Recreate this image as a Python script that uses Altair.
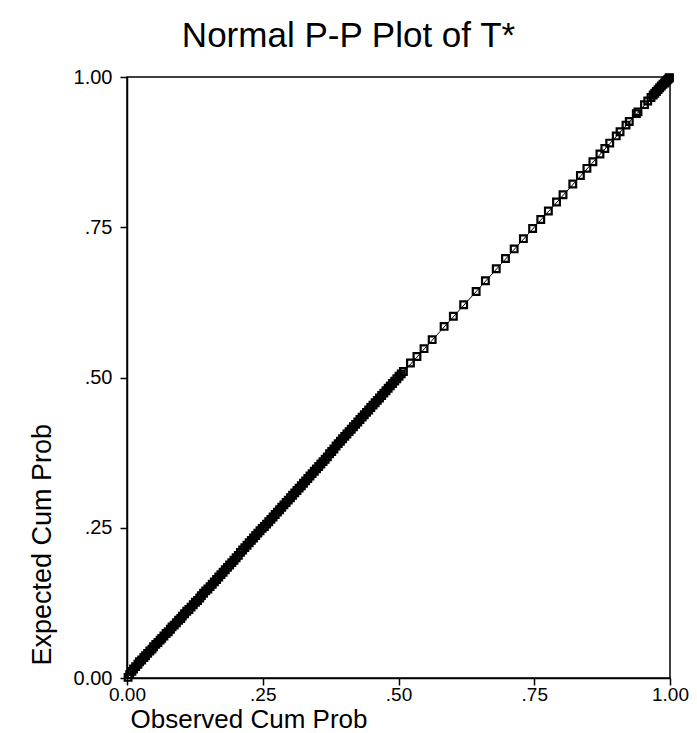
import altair as alt
import pandas as pd

# Observed cumulative probabilities (x) and expected (y)
obs_low = [0.002,0.005,0.009,0.012,0.016,0.020,0.023,0.027,0.031,0.034,
           0.038,0.042,0.046,0.049,0.053,0.057,0.061,0.064,0.068,0.072,
           0.076,0.080,0.083,0.087,0.091,0.095,0.099,0.102,0.106,0.110,
           0.114,0.118,0.122,0.126,0.130,0.134,0.137,0.141,0.145,0.149,
           0.153,0.157,0.161,0.165,0.169,0.173,0.177,0.181,0.185,0.189,
           0.193,0.197,0.201,0.205,0.209,0.213,0.217,0.221,0.225,0.229,
           0.233,0.237,0.241,0.245,0.249,0.253,0.257,0.261,0.265,0.269,
           0.273,0.277,0.281,0.285,0.289,0.293,0.297,0.301,0.305,0.309,
           0.313,0.317,0.321,0.325,0.329,0.333,0.337,0.341,0.345,0.349,
           0.353,0.357,0.361,0.365,0.369,0.373,0.377,0.381,0.385,0.389,
           0.393,0.397,0.401,0.405,0.409,0.413,0.417,0.421,0.425,0.429,
           0.433,0.437,0.441,0.445,0.449,0.453,0.457,0.461,0.465,0.469,
           0.473,0.477,0.481,0.485,0.489,0.493,0.497,0.501,0.505,0.509]
exp_low = [0.001,0.006,0.011,0.015,0.019,0.023,0.027,0.030,0.034,0.037,
           0.041,0.045,0.048,0.052,0.056,0.059,0.063,0.066,0.070,0.074,
           0.077,0.081,0.085,0.088,0.092,0.096,0.099,0.103,0.107,0.111,
           0.114,0.118,0.122,0.126,0.129,0.133,0.137,0.141,0.145,0.148,
           0.152,0.156,0.160,0.164,0.168,0.172,0.176,0.180,0.184,0.188,
           0.192,0.196,0.200,0.204,0.209,0.213,0.217,0.221,0.225,0.229,
           0.233,0.237,0.241,0.245,0.249,0.252,0.256,0.260,0.264,0.268,
           0.272,0.276,0.280,0.284,0.288,0.292,0.296,0.300,0.304,0.308,
           0.312,0.316,0.320,0.324,0.328,0.332,0.336,0.340,0.344,0.348,
           0.352,0.356,0.360,0.364,0.368,0.373,0.377,0.381,0.386,0.390,
           0.394,0.398,0.402,0.406,0.410,0.414,0.418,0.422,0.426,0.430,
           0.434,0.438,0.442,0.446,0.450,0.454,0.458,0.462,0.466,0.470,
           0.474,0.478,0.482,0.486,0.490,0.494,0.498,0.502,0.506,0.510]

obs_mid = [0.522,0.534,0.547,0.562,0.584,0.601,0.620,0.643,0.660,0.680,
           0.697,0.713,0.730,0.747,0.762,0.776,0.791,0.803,0.821,0.835,
           0.847,0.858,0.871,0.880,0.889,0.901,0.908,0.919,0.925,0.938,
           0.941,0.953,0.959,0.965]
exp_mid = [0.524,0.535,0.548,0.563,0.585,0.602,0.621,0.643,0.661,0.681,
           0.698,0.714,0.731,0.748,0.763,0.777,0.792,0.804,0.822,0.836,
           0.848,0.859,0.872,0.881,0.890,0.902,0.909,0.920,0.926,0.939,
           0.942,0.954,0.960,0.966]

obs_high = [0.969,0.972,0.975,0.978,0.981,0.984,0.987,0.990,0.992,0.994,0.996,0.998,0.999]
exp_high = [0.970,0.973,0.976,0.979,0.982,0.985,0.988,0.990,0.992,0.994,0.996,0.998,0.999]

tick_vals = [0, 0.25, 0.5, 0.75, 1.0]

df = pd.DataFrame({
    "observed": obs_low + obs_mid + obs_high,
    "expected": exp_low + exp_mid + exp_high,
})
line_df = pd.DataFrame({"observed": [0.0, 1.0], "expected": [0.0, 1.0]})

FONT = "Liberation Sans"
label_expr = "datum.value == 0 ? '0.00' : datum.value == 1 ? '1.00' : replace(format(datum.value, '.2f'), '0.', '.')"

xenc = alt.X("observed:Q",
             scale=alt.Scale(domain=[0, 1], nice=False, zero=False),
             axis=alt.Axis(values=tick_vals, labelExpr=label_expr, grid=False, labelFlush=False,
                           title="Observed Cum Prob", titleFont=FONT, titleFontSize=26,
                           titleFontWeight="normal", titleColor="black",
                           titleX=3, titleY=49, titleAlign="left", titleBaseline="alphabetic",
                           labelFont=FONT, labelFontSize=19, labelColor="black", labelPadding=0,
                           domainColor="black", domainWidth=1.5, tickColor="black",
                           tickWidth=1.5, tickSize=7))
yenc = alt.Y("expected:Q",
             scale=alt.Scale(domain=[0, 1], nice=False, zero=False),
             axis=alt.Axis(values=tick_vals, labelExpr=label_expr, grid=False, labelFlush=False,
                           title="Expected Cum Prob", titleFont=FONT, titleFontSize=27,
                           titleFontWeight="normal", titleColor="black",
                           titleX=-77, titleY=588, titleAngle=-90, titleAlign="left",
                           titleBaseline="alphabetic",
                           labelFont=FONT, labelFontSize=20, labelColor="black", labelPadding=8,
                           domainColor="black", domainWidth=1.5, tickColor="black",
                           tickWidth=1.5, tickSize=7))

points = alt.Chart(df).mark_point(shape="square", filled=False, color="black",
                                  size=45, strokeWidth=2.2, opacity=1).encode(x=xenc, y=yenc)
ref = alt.Chart(line_df).mark_line(color="black", strokeWidth=1).encode(x=xenc, y=yenc)

chart = alt.layer(ref, points).properties(
    width=543, height=601,
    title=alt.TitleParams("Normal P-P Plot of T*", font=FONT, fontSize=35,
                          fontWeight="normal", color="black", anchor="middle",
                          dx=-50, offset=-15, baseline="alphabetic"),
    autosize=alt.AutoSizeParams(type="none"),
    padding={"left": 119, "top": 69, "right": 19, "bottom": 55},
).configure_view(stroke="black", strokeWidth=1.5)

chart.save("out.html", embed_options={"renderer": "svg", "actions": False})
